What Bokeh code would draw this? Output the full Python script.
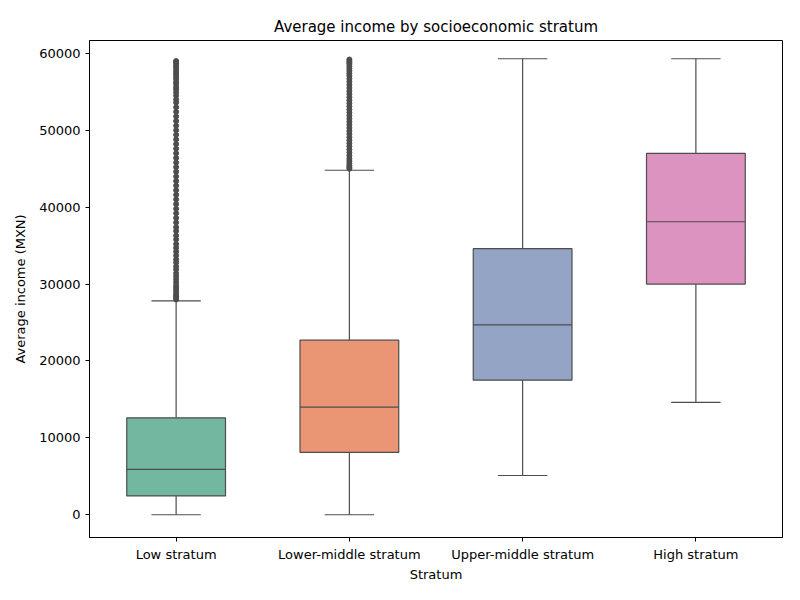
from bokeh.plotting import figure
from bokeh.models import Range1d, FixedTicker, ColumnDataSource
from bokeh.embed import file_html
from bokeh.resources import INLINE

categories = ["Low stratum", "Lower-middle stratum", "Upper-middle stratum", "High stratum"]
whisker_low = [0, 0, 5100, 14600]
q1 = [2450, 8100, 17500, 30000]
median = [5900, 14000, 24700, 38100]
q3 = [12600, 22700, 34600, 47000]
whisker_high = [27800, 44800, 59300, 59300]
colors = ["#73b7a0", "#ea9674", "#93a4c5", "#dc93c0"]

low_outliers = [28000, 28200, 28400, 28600, 28900, 29200, 29500, 29800, 30200, 30600,
                31000, 31400, 31900, 32300, 32800, 33200, 33700, 34200, 34700, 35200,
                35800, 36300, 36900, 37400, 38000, 38600, 39200, 39800, 40400, 41000,
                41600, 42200, 42800, 43400, 44000, 44600, 45200, 45800, 46400, 47000,
                47600, 48200, 48800, 49400, 50000, 50600, 51200, 51800, 52400, 53000,
                53600, 54000, 54500, 54900, 55300, 55600, 56000, 56300, 56700, 57000,
                57300, 57600, 57900, 58200, 58400, 58700, 58900, 59000]
lowmid_outliers = [45000, 45200, 45400, 45700, 46000, 46300, 46700, 47100, 47500, 47900,
                   48300, 48700, 49100, 49500, 49900, 50300, 50700, 51100, 51500, 51900,
                   52300, 52700, 53100, 53500, 53900, 54300, 54700, 55100, 55500, 55900,
                   56300, 56700, 57100, 57400, 57700, 58000, 58300, 58600, 58800, 59000,
                   59200]

xs = list(range(len(categories)))
w = 0.57
src = ColumnDataSource(dict(x=xs, lo=whisker_low, q1=q1, med=median, q3=q3, hi=whisker_high,
                            color=colors,
                            cl=[x - w / 4 for x in xs], cr=[x + w / 4 for x in xs],
                            bl=[x - w / 2 for x in xs], br=[x + w / 2 for x in xs]))

p = figure(width=784, height=584, output_backend="svg", toolbar_location=None,
           x_range=Range1d(-0.5, 3.5), y_range=Range1d(-2960, 61670),
           title="Average income by socioeconomic stratum",
           min_border_left=89, min_border_top=40, min_border_right=2, min_border_bottom=42)
edge = "#4d4d4d"
p.segment(x0="x", y0="lo", x1="x", y1="q1", source=src, line_color=edge, line_width=1.2)
p.segment(x0="x", y0="q3", x1="x", y1="hi", source=src, line_color=edge, line_width=1.2)
p.segment(x0="cl", y0="lo", x1="cr", y1="lo", source=src, line_color=edge, line_width=1.2)
p.segment(x0="cl", y0="hi", x1="cr", y1="hi", source=src, line_color=edge, line_width=1.2)
p.vbar(x="x", bottom="q1", top="q3", width=w, source=src, fill_color="color",
       line_color=edge, line_width=1.2)
p.segment(x0="bl", y0="med", x1="br", y1="med", source=src, line_color=edge, line_width=1.2)

p.scatter([0] * len(low_outliers), low_outliers, size=5, fill_color=edge, line_color=edge)
p.scatter([1] * len(lowmid_outliers), lowmid_outliers, size=5, fill_color=edge, line_color=edge)

p.xgrid.visible = False
p.ygrid.visible = False
p.xaxis.ticker = FixedTicker(ticks=xs)
p.xaxis.major_label_overrides = {i: c for i, c in enumerate(categories)}
p.yaxis.ticker = FixedTicker(ticks=[0, 10000, 20000, 30000, 40000, 50000, 60000])
p.xaxis.axis_label = "Stratum"
p.yaxis.axis_label = "Average income (MXN)"
for ax in (p.xaxis, p.yaxis):
    ax.axis_label_text_font_style = "normal"
    ax.axis_label_text_font = "DejaVu Sans"
    ax.axis_label_text_font_size = "13px"
    ax.axis_label_text_color = "black"
    ax.major_label_text_font = "DejaVu Sans"
    ax.major_label_text_font_size = "13px"
    ax.major_label_text_color = "black"
    ax.minor_tick_line_color = None
    ax.axis_line_color = "black"
    ax.major_tick_line_color = "black"
    ax.major_tick_out = 4
    ax.major_tick_in = 0
p.yaxis.axis_label_standoff = 8
p.xaxis.axis_label_standoff = 2
p.title.align = "center"
p.title.text_font = "DejaVu Sans"
p.title.text_font_style = "normal"
p.title.text_font_size = "15px"
p.title.text_color = "black"
p.outline_line_color = "black"

open("out.html", "w").write(file_html(p, INLINE))
